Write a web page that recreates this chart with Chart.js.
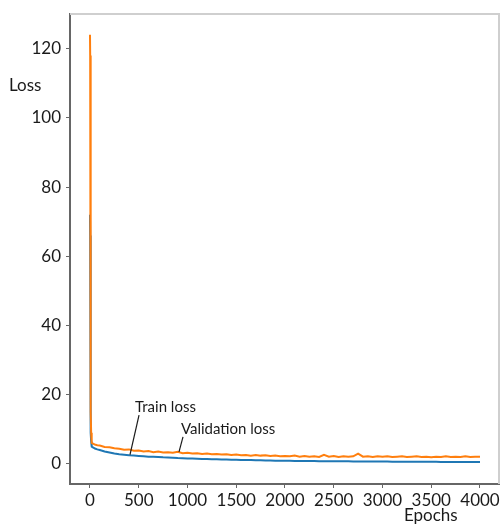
<!DOCTYPE html>
<html>
<head>
<meta charset="utf-8">
<script src="https://cdn.jsdelivr.net/npm/chart.js@4.4.1/dist/chart.umd.min.js"></script>
<style>
  body { margin: 0; background: #fff; }
  canvas { display: block; }
</style>
</head>
<body>
<canvas id="loss-chart" width="500" height="525"></canvas>
<script>
// Epochs sampled from the curves (dense at the start, then every 50)
const epochs = [
    0, 2, 4, 6, 8, 10, 12, 15, 20, 30, 40, 50, 75,
    100, 150, 200, 250, 300, 350, 400, 450, 500, 550,
    600, 650, 700, 750, 800, 850, 900, 950, 1000, 1050,
    1100, 1150, 1200, 1250, 1300, 1350, 1400, 1450, 1500, 1550,
    1600, 1650, 1700, 1750, 1800, 1850, 1900, 1950, 2000, 2050,
    2100, 2150, 2200, 2250, 2300, 2350, 2400, 2450, 2500, 2550,
    2600, 2650, 2700, 2750, 2800, 2850, 2900, 2950, 3000, 3050,
    3100, 3150, 3200, 3250, 3300, 3350, 3400, 3450, 3500, 3550,
    3600, 3650, 3700, 3750, 3800, 3850, 3900, 3950, 4000
];

const valLoss = [
    124, 118, 96, 60, 30, 15, 9, 6.8, 6.1, 5.9, 5.7, 5.6, 5.4,
    5.3, 4.9, 4.8, 4.5, 4.4, 4.1, 4.2, 3.8, 3.9, 3.6,
    3.7, 3.4, 3.6, 3.3, 3.4, 3.2, 3.5, 3.1, 3.2, 3.0,
    3.1, 2.9, 3.0, 2.8, 2.9, 2.7, 2.8, 2.6, 2.7, 2.5,
    2.6, 2.4, 2.6, 2.4, 2.5, 2.3, 2.4, 2.2, 2.3, 2.2,
    2.4, 2.1, 2.3, 2.1, 2.2, 2.0, 2.6, 2.1, 2.3, 2.0,
    2.2, 2.1, 2.2, 3.0, 2.1, 2.2, 2.0, 2.2, 2.1, 2.2,
    2.0, 2.1, 2.2, 2.0, 2.1, 2.2, 2.0, 2.1, 1.9, 2.1,
    2.0, 2.2, 2.0, 2.1, 2.0, 2.2, 2.0, 2.1, 2.1
];

const trainLoss = [
    72, 66, 50, 30, 16, 9, 6.5, 5.5, 5.0, 4.8, 4.6, 4.45, 4.2,
    4.0, 3.6, 3.3, 3.0, 2.8, 2.65, 2.5, 2.4, 2.3, 2.2,
    2.1, 2.05, 2.0, 1.9, 1.85, 1.8, 1.7, 1.65, 1.6, 1.55,
    1.5, 1.45, 1.4, 1.38, 1.33, 1.3, 1.25, 1.22, 1.2, 1.15,
    1.12, 1.1, 1.05, 1.03, 1.0, 0.98, 0.95, 0.93, 0.9, 0.9,
    0.88, 0.86, 0.85, 0.83, 0.82, 0.8, 0.8, 0.78, 0.77, 0.76,
    0.75, 0.74, 0.73, 0.72, 0.71, 0.7, 0.7, 0.69, 0.68, 0.67,
    0.66, 0.66, 0.65, 0.64, 0.63, 0.63, 0.62, 0.61, 0.6, 0.6,
    0.59, 0.58, 0.58, 0.57, 0.56, 0.56, 0.55, 0.55, 0.54
];

const xTicks = [0, 500, 1000, 1500, 2000, 2500, 3000, 3500, 4000];
const yTicks = [0, 20, 40, 60, 80, 100, 120];

// Callout labels, in data coordinates: text left/middle, then pointer line
const callouts = [
    { text: 'Train loss', tx: 462, ty: 16.4, x1: 503, y1: 14.1, x2: 410, y2: 2.6 },
    { text: 'Validation loss', tx: 933, ty: 10.1, x1: 954, y1: 7.8, x2: 913, y2: 3.5 }
];

const FONT = 'Lato, "Open Sans", sans-serif';

// Frame, axis titles and callouts
const decorPlugin = {
    id: 'decor',
    afterDraw(chart) {
        const ctx = chart.ctx;
        const a = chart.chartArea;
        const xs = chart.scales.x, ys = chart.scales.y;
        ctx.save();
        ctx.strokeStyle = '#cfcfcf';
        ctx.lineWidth = 2;
        ctx.beginPath();
        ctx.moveTo(a.left, a.top);
        ctx.lineTo(a.right, a.top);
        ctx.lineTo(a.right, a.bottom);
        ctx.stroke();

        ctx.fillStyle = '#1a1a1a';
        ctx.font = '17px ' + FONT;
        ctx.textBaseline = 'middle';
        ctx.textAlign = 'left';
        ctx.fillText('Loss', 9, 86);
        ctx.fillText('Epochs', 404, 516);

        ctx.font = '15px ' + FONT;
        ctx.strokeStyle = '#1a1a1a';
        ctx.lineWidth = 1.2;
        callouts.forEach(c => {
            ctx.fillText(c.text, xs.getPixelForValue(c.tx), ys.getPixelForValue(c.ty));
            ctx.beginPath();
            ctx.moveTo(xs.getPixelForValue(c.x1), ys.getPixelForValue(c.y1));
            ctx.lineTo(xs.getPixelForValue(c.x2), ys.getPixelForValue(c.y2));
            ctx.stroke();
        });
        ctx.restore();
    }
};

new Chart(document.getElementById('loss-chart').getContext('2d'), {
    type: 'line',
    data: {
        datasets: [
            {
                label: 'Validation loss',
                data: epochs.map((e, i) => ({ x: e, y: valLoss[i] })),
                borderColor: '#ff7f0e',
                borderWidth: 2,
                pointRadius: 0,
                tension: 0
            },
            {
                label: 'Train loss',
                data: epochs.map((e, i) => ({ x: e, y: trainLoss[i] })),
                borderColor: '#1f77b4',
                borderWidth: 2,
                pointRadius: 0,
                tension: 0
            }
        ]
    },
    options: {
        responsive: false,
        animation: false,
        layout: { padding: { top: 14, right: 1, left: 0, bottom: 0 } },
        plugins: { legend: { display: false }, tooltip: { enabled: false } },
        scales: {
            x: {
                type: 'linear',
                min: -205,
                max: 4195,
                afterBuildTicks: s => { s.ticks = xTicks.map(v => ({ value: v })); },
                afterFit: s => { s.height = 41; s.paddingLeft = 0; s.paddingRight = 0; },
                ticks: { color: '#1a1a1a', font: { family: FONT, size: 17 }, padding: 2, maxRotation: 0,
                         callback: v => String(v) },
                grid: { drawOnChartArea: false, tickLength: 4, color: '#666', lineWidth: 1 },
                border: { color: '#666', width: 2 }
            },
            y: {
                min: -5.8,
                max: 130,
                afterBuildTicks: s => { s.ticks = yTicks.map(v => ({ value: v })); },
                afterFit: s => { s.width = 70; s.paddingTop = 0; s.paddingBottom = 0; },
                ticks: { color: '#1a1a1a', font: { family: FONT, size: 17 }, padding: 5 },
                grid: { drawOnChartArea: false, tickLength: 4, color: '#666', lineWidth: 1 },
                border: { color: '#666', width: 2 }
            }
        }
    },
    plugins: [decorPlugin]
});
</script>
</body>
</html>
